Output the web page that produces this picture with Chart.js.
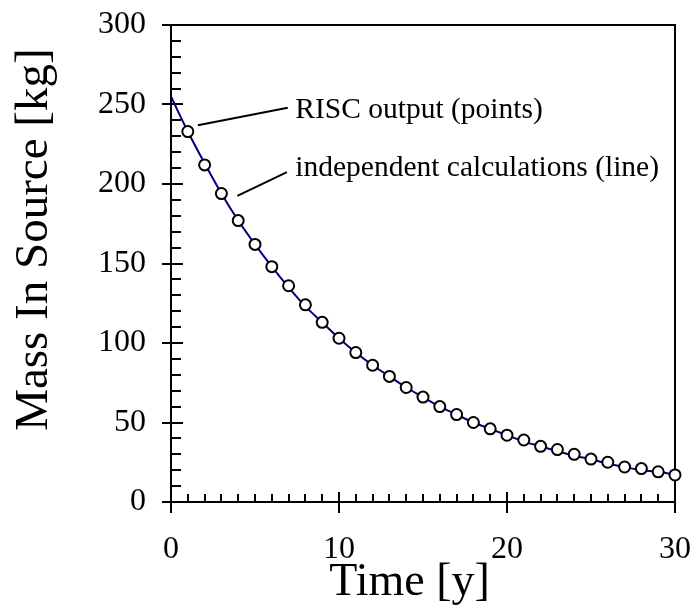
<!DOCTYPE html>
<html>
<head>
<meta charset="utf-8">
<script src="https://cdn.jsdelivr.net/npm/chart.js@4"></script>
<style>
  html, body { margin: 0; padding: 0; background: #fff; }
  #wrap { width: 696px; height: 608px; }
</style>
</head>
<body>
<div id="wrap"><canvas id="myChart"></canvas></div>
<script>
// values
var years = [1, 2, 3, 4, 5, 6, 7, 8, 9, 10, 11, 12, 13, 14, 15,
             16, 17, 18, 19, 20, 21, 22, 23, 24, 25, 26, 27, 28, 29, 30];
var riscMass = [233, 212, 194, 177, 162, 148, 136, 124, 113, 103, 94, 86, 79, 72, 66,
                60, 55, 50, 46, 42, 39, 35, 33, 30, 27, 25, 22, 21, 19, 17];
var calcYears = [0, 1, 2, 3, 4, 5, 6, 7, 8, 9, 10, 11, 12, 13, 14, 15,
                 16, 17, 18, 19, 20, 21, 22, 23, 24, 25, 26, 27, 28, 29, 30];
var calcMass = [255, 233, 213, 194, 177, 162, 148, 135, 123, 113, 103, 94, 86, 79, 72, 66,
                60, 55, 50, 46, 42, 38, 35, 32, 29, 27, 24, 22, 20, 19, 17];
var xTicks = [0, 10, 20, 30];
var yTicks = [0, 50, 100, 150, 200, 250, 300];

var serif = '"Liberation Serif", "Times New Roman", serif';

function pts(xs, ys) {
  return xs.map(function (x, i) { return { x: x, y: ys[i] }; });
}

// no extra room for tick labels, the layout padding decides the plot area
function noPad(s) {
  s.paddingLeft = 0; s.paddingRight = 0; s.paddingTop = 0; s.paddingBottom = 0;
}

// frame, inward ticks, axis titles and the two notes
var framePlugin = {
  id: 'frame',
  beforeDatasetsDraw: function (chart) {
    var c = chart.ctx, a = chart.chartArea;
    var xs = chart.scales.x, ys = chart.scales.y;
    c.save();
    c.strokeStyle = '#000';
    c.lineWidth = 2;
    c.strokeRect(a.left, a.top, a.right - a.left, a.bottom - a.top);
    c.beginPath();
    for (var v = 0; v <= 300; v += 10) {
      var py = Math.round(ys.getPixelForValue(v));
      var major = v % 50 === 0;
      c.moveTo(a.left - (major ? 9 : 0), py);
      c.lineTo(a.left + (major ? 12 : 10), py);
    }
    for (var t = 0; t <= 30; t++) {
      var px = Math.round(xs.getPixelForValue(t));
      var maj = t % 10 === 0;
      c.moveTo(px, a.bottom + (maj ? 11 : 0));
      c.lineTo(px, a.bottom - (maj ? 10 : 8));
    }
    c.stroke();
    c.restore();
  },
  afterDraw: function (chart) {
    var c = chart.ctx;
    var xs = chart.scales.x, ys = chart.scales.y;
    function X(v) { return xs.getPixelForValue(v); }
    function Y(v) { return ys.getPixelForValue(v); }
    c.save();
    c.strokeStyle = '#000';
    c.lineWidth = 2;
    c.beginPath();
    c.moveTo(X(1.6), Y(237)); c.lineTo(X(6.95), Y(248));
    c.moveTo(X(3.95), Y(192.5)); c.lineTo(X(6.9), Y(207.5));
    c.stroke();
    c.fillStyle = '#000';
    c.font = '29.5px ' + serif;
    c.textBaseline = 'middle';
    c.fillText('RISC output (points)', X(7.4), Y(246.5));
    c.fillText('independent calculations (line)', X(7.4), Y(210));
    // x title, a little left of the middle
    c.textAlign = 'center';
    c.textBaseline = 'alphabetic';
    c.font = '46px ' + serif;
    c.fillText('Time [y]', X(14.2), 595);
    // y title, a bit above the middle of the axis
    c.translate(47, Y(165));
    c.rotate(-Math.PI / 2);
    c.font = '47px ' + serif;
    c.fillText('Mass In Source [kg]', 0, 0);
    c.restore();
  }
};

var ctx = document.getElementById('myChart').getContext('2d');
var myChart = new Chart(ctx, {
  type: 'scatter',
  data: {
    datasets: [{
      label: 'RISC output (points)',
      data: pts(years, riscMass),
      showLine: false,
      pointRadius: 5.5,
      pointBorderWidth: 2,
      pointBackgroundColor: '#fff',
      pointBorderColor: '#000',
      clip: false,
      order: 0
    }, {
      label: 'independent calculations (line)',
      data: pts(calcYears, calcMass),
      showLine: true,
      pointRadius: 0,
      borderColor: '#000080',
      borderWidth: 2,
      cubicInterpolationMode: 'monotone',
      clip: false,
      order: 1
    }]
  },
  options: {
    responsive: true,
    maintainAspectRatio: false,
    animation: false,
    layout: { padding: { left: 0, right: 21, top: 25, bottom: 1 } },
    plugins: { legend: { display: false }, tooltip: { enabled: false } },
    scales: {
      x: {
        type: 'linear', min: 0, max: 30,
        afterFit: function (s) { s.height = 105; noPad(s); },
        afterBuildTicks: function (s) { s.ticks = xTicks.map(function (v) { return { value: v }; }); },
        grid: { display: false },
        border: { display: false },
        ticks: { color: '#000', font: { family: serif, size: 32 }, padding: 20, maxRotation: 0 }
      },
      y: {
        type: 'linear', min: 0, max: 300,
        afterFit: function (s) { s.width = 171; noPad(s); },
        afterBuildTicks: function (s) { s.ticks = yTicks.map(function (v) { return { value: v }; }); },
        grid: { display: false },
        border: { display: false },
        ticks: { color: '#000', font: { family: serif, size: 32 }, padding: 17 }
      }
    }
  },
  plugins: [framePlugin]
});
</script>
</body>
</html>
